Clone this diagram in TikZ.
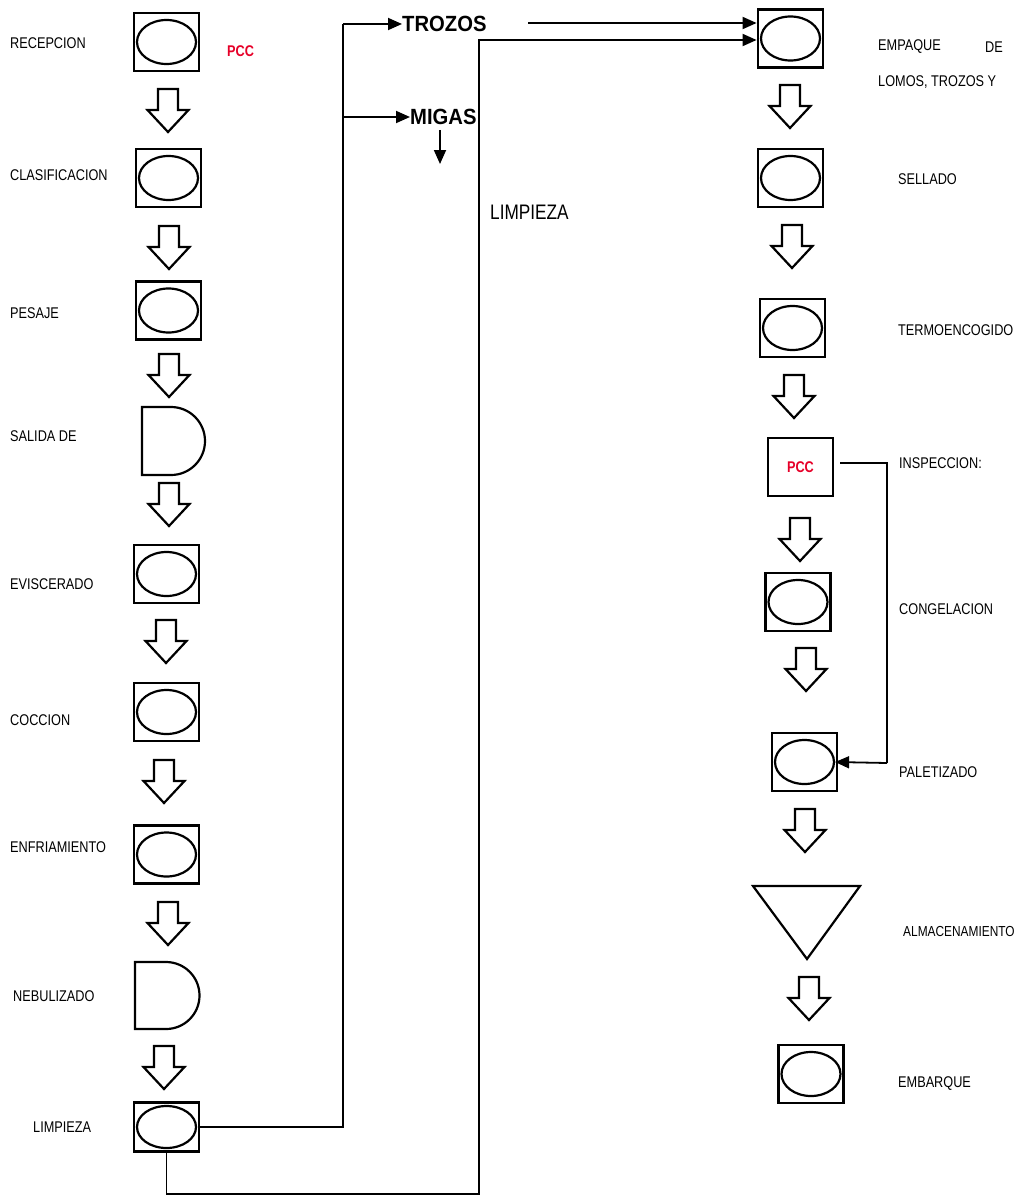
\documentclass[tikz,border=0pt]{standalone}
\usepackage{fontspec}
\setmainfont{Liberation Sans}
\newfontfamily\nar[FakeStretch=0.82]{Liberation Sans}
\newfontfamily\narb[FakeStretch=0.92]{Liberation Sans}
\usetikzlibrary{shapes.geometric,arrows.meta}
\definecolor{pccred}{RGB}{230,0,40}
\tikzset{
  pbox/.style={draw,line width=2.8pt,minimum width=65pt,minimum height=58pt,inner sep=0pt},
  pell/.style={draw,ellipse,line width=2.2pt,minimum width=59pt,minimum height=44pt,inner sep=0pt},
  lbl/.style={anchor=west,inner sep=0pt,font=\nar\fontsize{15.5}{18}\selectfont},
  big/.style={anchor=west,inner sep=0pt,font=\narb\bfseries\fontsize{22}{26}\selectfont},
  pcc/.style={inner sep=0pt,text=pccred,font=\nar\bfseries\fontsize{15.5}{18}\selectfont},
  conn/.style={line width=1.8pt},
  tip/.style={-{Triangle[length=14pt,width=12pt]}},
  shape line/.style={line width=2.2pt,line join=miter},
  blockarrow/.pic={\draw[shape line,fill=white] (-10,0) -- (10,0) -- (10,21) -- (20.5,21) -- (0,43) -- (-20.5,21) -- (-10,21) -- cycle;}
}
\begin{document}
\begin{tikzpicture}[x=1pt,y=-1pt]
\useasboundingbox (0,0) rectangle (1020,1196);

% ---------- left column ----------
\node[pbox] (rec) at (166.5,42) {};   \node[pell] (recE) at (rec) {};
\node[pbox] (cla) at (168.5,178) {};  \node[pell] (claE) at (cla) {};
\node[pbox] (pes) at (168.5,310.5) {};\node[pell] (pesE) at (pes) {};
\draw[shape line] (142,407) -- (171,407) arc[start angle=-90,end angle=90,radius=34] -- (142,475) -- cycle;
\node[pbox] (evi) at (166.5,574) {};  \node[pell] (eviE) at (evi) {};
\node[pbox] (coc) at (166.5,712) {};  \node[pell] (cocE) at (coc) {};
\node[pbox] (enf) at (166.5,854.5) {};\node[pell] (enfE) at (enf) {};
\draw[shape line] (135,962) -- (166,962) arc[start angle=-90,end angle=90,radius=33.5] -- (135,1029) -- cycle;
\node[pbox,minimum height=49pt] (lim) at (166.5,1127) {};
\node[pell,minimum height=42pt] (limE) at (lim) {};

\pic at (168,89) {blockarrow};
\pic at (169,226) {blockarrow};
\pic at (169,354) {blockarrow};
\pic at (169,483) {blockarrow};
\pic at (166,620) {blockarrow};
\pic at (164,760) {blockarrow};
\pic at (168,902) {blockarrow};
\pic at (164,1046) {blockarrow};

\node[lbl] (tRec) at (10,43) {RECEPCION};
\node[pcc,anchor=west] (pcc1) at (227,51) {PCC};
\node[lbl] (tCla) at (10,175) {CLASIFICACION};
\node[lbl] (tPes) at (10,313) {PESAJE};
\node[lbl] (tSal) at (10,436) {SALIDA DE};
\node[lbl] (tEvi) at (10,584) {EVISCERADO};
\node[lbl] (tCoc) at (10,720) {COCCION};
\node[lbl] (tEnf) at (10,847) {ENFRIAMIENTO};
\node[lbl] (tNeb) at (13,996) {NEBULIZADO};
\node[lbl] (tLim) at (33,1127) {LIMPIEZA};

% ---------- middle ----------
\node[big] (trozos) at (402,24) {TROZOS};
\node[big] (migas) at (410,117) {MIGAS};
\node[anchor=west,inner sep=0pt,font=\nar\fontsize{21}{24}\selectfont] (limp2) at (490,212) {LIMPIEZA};
\coordinate (migTop) at (440,130);
\coordinate (migBot) at (440,164);

% ---------- right column ----------
\node[pbox] (emp) at (790.5,38.5) {}; \node[pell] (empE) at (emp) {};
\node[pbox] (sel) at (790.5,178) {};  \node[pell] (selE) at (sel) {};
\node[pbox] (ter) at (792.5,328) {};  \node[pell] (terE) at (ter) {};
\node[pbox] (ins) at (800.5,467) {};
\node[pcc] (pcc2) at (ins) {PCC};
\node[pbox] (con) at (798,602) {};    \node[pell] (conE) at (con) {};
\node[pbox] (pal) at (804.5,762) {};  \node[pell] (palE) at (pal) {};
\draw[shape line] (753,886) -- (860,886) -- (807,959) -- cycle;
\node[pbox] (emb) at (811,1074) {};   \node[pell] (embE) at (emb) {};

\pic at (790,85) {blockarrow};
\pic at (792,225) {blockarrow};
\pic at (794,375) {blockarrow};
\pic at (800,518) {blockarrow};
\pic at (806,648) {blockarrow};
\pic at (805,809) {blockarrow};
\pic at (809,977) {blockarrow};

\node[lbl] (tEmp) at (878,47) {EMPAQUE};
\node[lbl] (tDe) at (985,47) {DE};
\node[lbl] (tLom) at (878,82) {LOMOS, TROZOS Y};
\node[lbl] (tSel) at (898,179) {SELLADO};
\node[lbl] (tTer) at (898,330) {TERMOENCOGIDO};
\node[lbl] (tIns) at (899,463) {INSPECCION:};
\node[lbl] (tCon) at (899,609) {CONGELACION};
\node[lbl] (tPal) at (899,772) {PALETIZADO};
\node[lbl,font=\nar\fontsize{14.5}{17}\selectfont] (tAlm) at (903,931) {ALMACENAMIENTO};
\node[lbl] (tEmb) at (898,1084) {EMBARQUE};

% ---------- connectors ----------
\draw[conn] (lim.east) -- (343,1127) -- (343,24);
\draw[conn,tip] (343,24) -- (trozos.west);
\draw[conn,tip] (343,117) -- (migas.west);
\draw[conn,tip] (migTop) -- (migBot);
\draw[conn,tip] (528,23) -- (emp.west |- 0,23);
\draw[conn,tip] (lim.south) -- (166.5,1194) -- (479,1194) -- (479,40) -- (emp.west |- 0,40);
\draw[conn] (ins.east) ++(6,-4) -- (887,463) -- (887,763);
\draw[conn,tip] (887,763) -- (palE.east);
\end{tikzpicture}
\end{document}
